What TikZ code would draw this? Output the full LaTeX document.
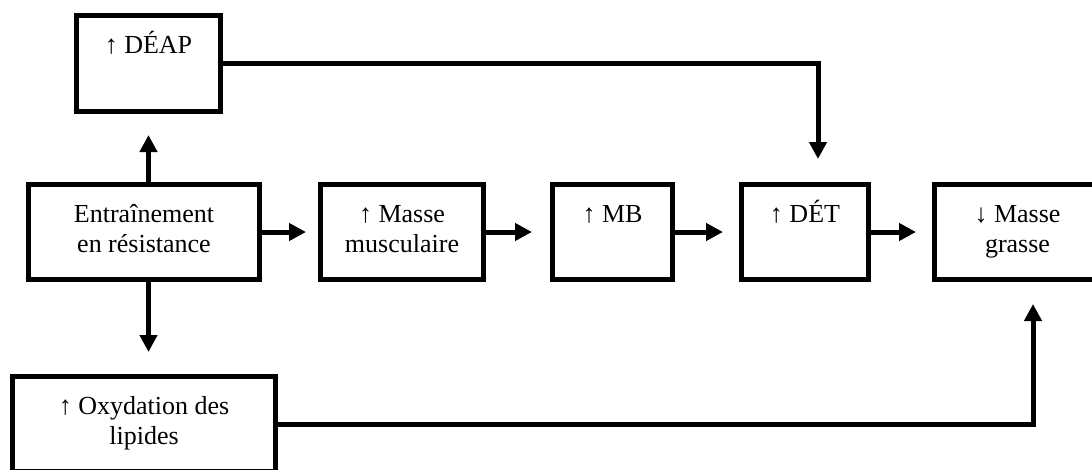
\documentclass[tikz,border=0pt]{standalone}
\usepackage{fontspec}
\setmainfont{Liberation Serif}
\usetikzlibrary{arrows.meta,calc}

% label set in a top-aligned paragraph so that its first baseline sits at the anchor
\newcommand\toplines[1]{\parbox[t]{260pt}{\centering #1}}

\begin{document}
\begin{tikzpicture}[x=1pt,y=-1pt,
  box/.style={draw, line width=5pt, inner sep=0pt, outer sep=0pt,
              minimum height=95pt},
  lbl/.style={anchor=base, inner sep=0pt, font=\fontsize{26}{30}\selectfont},
  conn/.style={line width=5pt, -{Triangle[width=17pt,length=17pt]}},
  link/.style={line width=5pt}]

\useasboundingbox (0,0) rectangle (1092,469);
\clip (0,0) rectangle (1092,469);

% boxes (coordinates are the centres of the frame lines)
\node[box, minimum width=144pt, minimum height=96pt] (deap) at (148.5,63.5) {};
\node[box, minimum width=231pt] (entr) at (144,232) {};
\node[box, minimum width=163pt] (mm)   at (402,232) {};
\node[box, minimum width=120pt] (mb)   at (612.5,232) {};
\node[box, minimum width=127pt] (det)  at (805,232) {};
\node[box, minimum width=166pt] (mg)   at (1017.5,232) {};
\node[box, minimum width=263pt] (ox)   at (144,424) {};

% texts
\node[lbl] (tdeap) at ($(deap.north)+(0,37.5)$) {\toplines{↑ DÉAP}};
\node[lbl] (tentr) at ($(entr.north)+(0,37.5)$) {\toplines{Entraînement\\en résistance}};
\node[lbl] (tmm)   at ($(mm.north)+(0,37.5)$)   {\toplines{↑ Masse\\musculaire}};
\node[lbl] (tmb)   at ($(mb.north)+(0,37.5)$)   {\toplines{↑ MB}};
\node[lbl] (tdet)  at ($(det.north)+(0,37.5)$)  {\toplines{↑ DÉT}};
\node[lbl] (tmg)   at ($(mg.north)+(0,37.5)$)   {\toplines{↓ Masse\\grasse}};
\node[lbl] (tox)   at ($(ox.north)+(0,37.5)$)   {\toplines{↑ Oxydation des\\lipides}};

% junction points of the bent connectors
\coordinate (detin) at ($(det.north)+(13,0)$);
\coordinate (mgin)  at ($(mg.south)+(15.5,0)$);

% main chain
\draw[conn, shorten >=14.5pt] (entr.east) -- (mm.west);
\draw[conn, shorten >=20.5pt] (mm.east) -- (mb.west);
\draw[conn, shorten >=18.5pt] (mb.east) -- (det.west);
\draw[conn, shorten >=18.5pt] (det.east) -- (mg.west);

% branches from the training box
\draw[conn, shorten >=23.5pt] (entr.north -| deap.south) -- (deap.south);
\draw[conn, shorten >=24.5pt] (entr.south -| deap.south) -- (ox.north -| deap.south);

% long connectors
\draw[conn, shorten >=25.5pt] (deap.east) -| (detin);
\draw[conn, shorten >=24.5pt] (ox.east) -| (mgin);
\end{tikzpicture}
\end{document}
